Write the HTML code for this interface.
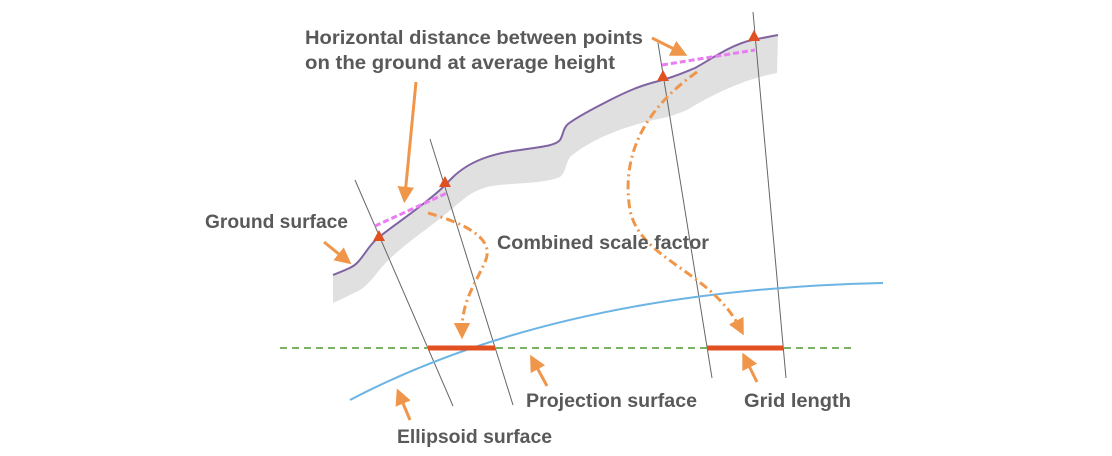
<!DOCTYPE html>
<html><head><style>html,body{margin:0;padding:0;background:#fff}svg{display:block}</style></head>
<body>
<svg width="1112" height="456" viewBox="0 0 1112 456" xmlns="http://www.w3.org/2000/svg">
<defs>
<marker id="ah" viewBox="0 0 10 10" refX="5" refY="5" markerWidth="5.5" markerHeight="5.5" orient="auto"><path d="M0,0 L10,5 L0,10 z" fill="#f0964a"/></marker>
</defs>
<path d="M333,275 C345,270 352,268 357,263 C365,255 368,246 378,238 C392,226 415,212 440,190 C446,184 448,182 452,178 C470,160 495,153 520,150 C540,147 555,146 560,140 C563,136 563,128 568,124 C580,115 595,108 610,100 C630,90 640,86 655,82 C675,77 685,72 695,68 C710,60 730,45 752,40 L778,35 L777,73 C750,78 720,90 687,110 C675,115 665,118 653,120 C620,128 590,140 570,157 C565,165 566,172 560,177 C540,185 510,182 487,187 C470,192 465,198 447,213 C420,235 395,250 377,273 C370,282 365,287 360,290 C350,295 340,300 333,303 Z" fill="#e0e0e0"/>
<path d="M333,275 C345,270 352,268 357,263 C365,255 368,246 378,238 C392,226 415,212 440,190 C446,184 448,182 452,178 C470,160 495,153 520,150 C540,147 555,146 560,140 C563,136 563,128 568,124 C580,115 595,108 610,100 C630,90 640,86 655,82 C675,77 685,72 695,68 C710,60 730,45 752,40 L778,35" fill="none" stroke="#8064a2" stroke-width="2"/>
<g stroke="#666" stroke-width="1" fill="none">
<line x1="355" y1="180" x2="453" y2="406"/>
<line x1="430" y1="139" x2="513" y2="405"/>
<line x1="658" y1="43" x2="712" y2="378"/>
<line x1="753" y1="12" x2="786" y2="378"/>
</g>
<line x1="280" y1="348" x2="855" y2="348" stroke="#6aa84f" stroke-width="1.8" stroke-dasharray="7,5"/>
<path d="M350,400 Q560,290 883,283" fill="none" stroke="#6cb4e4" stroke-width="2"/>
<line x1="428" y1="348" x2="495" y2="348" stroke="#e05020" stroke-width="5"/>
<line x1="707" y1="348" x2="783" y2="348" stroke="#e05020" stroke-width="5"/>
<line x1="375" y1="226" x2="447" y2="193" stroke="#e97cf2" stroke-width="3" stroke-dasharray="6,3"/>
<line x1="662" y1="65" x2="755" y2="50" stroke="#e97cf2" stroke-width="3" stroke-dasharray="6,3"/>
<g fill="#e05020">
<path d="M379,230 L385,241 L373,241 Z"/>
<path d="M445,176 L451,187 L439,187 Z"/>
<path d="M663,70 L669,81 L657,81 Z"/>
<path d="M754,30 L760,41 L748,41 Z"/>
</g>
<g stroke="#f0964a" stroke-width="3" fill="none" marker-end="url(#ah)">
<line x1="324" y1="242" x2="345" y2="259"/>
<line x1="416" y1="82" x2="405" y2="195"/>
<line x1="652" y1="38" x2="680" y2="52"/>
<line x1="547" y1="386" x2="534" y2="362"/>
<line x1="757" y1="382" x2="746" y2="360"/>
<line x1="410" y1="420" x2="400" y2="396"/>
</g>
<g stroke="#f0964a" stroke-width="3" fill="none" stroke-dasharray="9,4,2,4" marker-end="url(#ah)">
<path d="M428,213 C470,225 495,240 485,262 C475,285 462,300 462,331"/>
<path d="M697,72 C650,105 620,150 630,210 C640,260 710,270 740,328"/>
</g>
<g font-family="Liberation Sans, sans-serif" font-weight="bold" font-size="19" fill="#595959" lengthAdjust="spacingAndGlyphs">
<text x="305" y="44" textLength="338" lengthAdjust="spacingAndGlyphs">Horizontal distance between points</text>
<text x="305" y="69" textLength="310" lengthAdjust="spacingAndGlyphs">on the ground at average height</text>
<text x="205" y="228" textLength="143" lengthAdjust="spacingAndGlyphs">Ground surface</text>
<text x="497" y="249" textLength="212" lengthAdjust="spacingAndGlyphs">Combined scale factor</text>
<text x="526" y="407" textLength="171" lengthAdjust="spacingAndGlyphs">Projection surface</text>
<text x="744" y="407" textLength="107" lengthAdjust="spacingAndGlyphs">Grid length</text>
<text x="397" y="443" textLength="155" lengthAdjust="spacingAndGlyphs">Ellipsoid surface</text>
</g>
</svg>
</body></html>
